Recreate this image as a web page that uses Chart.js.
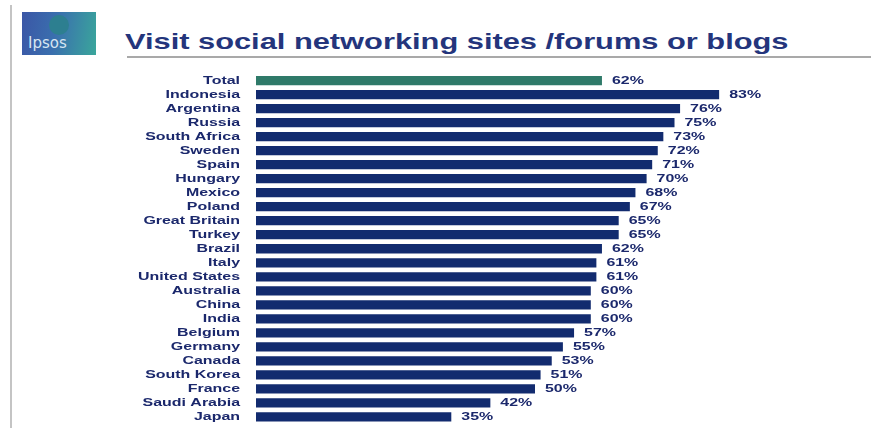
<!DOCTYPE html>
<html lang="en">
<head>
<meta charset="UTF-8">
<title>Visit social networking sites</title>
<script src="https://cdn.jsdelivr.net/npm/chart.js@4/dist/chart.umd.min.js"></script>
<style>
    body { margin: 0; background: #fff; }
    #wrap { position: relative; width: 871px; height: 428px; overflow: hidden; }
    #vline { position: absolute; left: 10px; top: 5px; width: 2px; height: 423px; background: #c4c4c4; }
    #logo {
        position: absolute; left: 22px; top: 12px; width: 74px; height: 43px;
        background: linear-gradient(100deg, #3b56a6 0%, #3a6fae 45%, #3aa69b 100%);
        overflow: hidden;
    }
    #logo .dot { position: absolute; left: 27px; top: 3px; width: 20px; height: 20px; border-radius: 50%; background: #2d7f90; }
    #logo span {
        position: absolute; left: 6px; top: 22px; color: #d7e6f2;
        font: 15px "DejaVu Sans", sans-serif;
    }
    #title {
        position: absolute; left: 125px; top: 29px; white-space: nowrap;
        font: bold 22px "Liberation Sans", Arial, sans-serif; color: #24357c;
        transform: scaleX(1.4); transform-origin: left top;
    }
    #rule { position: absolute; left: 127px; top: 56px; right: 0; height: 2px; background: #a9a9a9; }
    canvas { position: absolute; left: 0; top: 0; }
</style>
</head>
<body>
<div id="wrap">
    <div id="vline"></div>
    <div id="logo"><div class="dot"></div><span>Ipsos</span></div>
    <div id="title">Visit social networking sites /forums or blogs</div>
    <div id="rule"></div>
    <canvas id="myChart" width="871" height="428"></canvas>
</div>
<script>
    // countries, top to bottom
    let categories = ["Total","Indonesia","Argentina","Russia","South Africa","Sweden","Spain","Hungary","Mexico","Poland",
        "Great Britain","Turkey","Brazil","Italy","United States","Australia","China","India","Belgium","Germany",
        "Canada","South Korea","France","Saudi Arabia","Japan"]
    // percent who visit social networking sites / forums or blogs
    let values = [62,83,76,75,73,72,71,70,68,67,65,65,62,61,61,60,60,60,57,55,53,51,50,42,35]

    let navy = '#122b6f'
    let teal = '#2f7a69'
    let textColor = '#1b286c'
    let stretch = 1.45

    // labels in the reference are wide, so draw them stretched
    const barLabels = {
        id: 'barLabels',
        afterDatasetsDraw(chart) {
            const ctx = chart.ctx
            const xs = chart.scales.x
            const ys = chart.scales.y
            ctx.save()
            ctx.fillStyle = textColor
            ctx.font = 'bold 11px "Liberation Sans", Arial, sans-serif'
            ctx.textBaseline = 'middle'
            categories.forEach((c, i) => {
                const y = ys.getPixelForValue(i)
                ctx.save()
                ctx.translate(240, y)
                ctx.scale(stretch, 1)
                ctx.textAlign = 'right'
                ctx.fillText(c, 0, 0)
                ctx.restore()

                ctx.save()
                ctx.translate(xs.getPixelForValue(values[i]) + 10, y)
                ctx.scale(stretch, 1)
                ctx.textAlign = 'left'
                ctx.fillText(values[i] + '%', 0, 0)
                ctx.restore()
            })
            ctx.restore()
        }
    }

    const ctx = document.getElementById('myChart').getContext('2d')
    const myChart = new Chart(ctx, {
        type: 'bar',
        data: {
            labels: categories,
            datasets: [{
                data: values,
                backgroundColor: categories.map((c, i) => i == 0 ? teal : navy),
                borderWidth: 0,
                categoryPercentage: 1,
                barPercentage: 0.66
            }]
        },
        options: {
            indexAxis: 'y',
            responsive: false,
            animation: false,
            layout: { padding: { left: 256, right: 57, top: 73.5, bottom: 4 } },
            plugins: { legend: { display: false }, tooltip: { enabled: false } },
            scales: {
                x: { display: false, min: 0, max: 100 },
                y: { display: false }
            }
        },
        plugins: [barLabels]
    })
</script>
</body>
</html>
